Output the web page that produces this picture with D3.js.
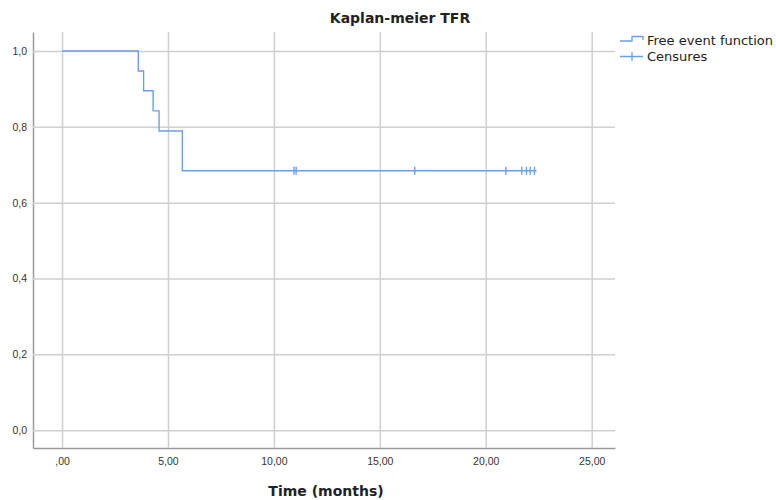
<!DOCTYPE html>
<html>
<head>
<meta charset="utf-8">
<script src="https://cdn.jsdelivr.net/npm/d3@7"></script>
<style>
  body { margin: 0; background: #fff; }
  svg { display: block; font-family: "DejaVu Sans", sans-serif; }
</style>
</head>
<body>
<svg id="chart"></svg>
<script>
// step curve: time of each event and survival after it
const stepTimes = [0, 3.6, 3.85, 4.3, 4.58, 5.68];
const stepSurv = [1.0, 0.947, 0.895, 0.842, 0.789, 0.684];
const lastTime = 22.4;
// censored observations
const censorTimes = [10.95, 11.05, 16.65, 20.95, 21.7, 21.92, 22.1, 22.3];
const xTicks = [0, 5, 10, 15, 20, 25];
const yTicks = [0, 0.2, 0.4, 0.6, 0.8, 1.0];

const width = 776, height = 500;
const plotL = 33, plotR = 615, plotT = 32, plotB = 448;
const lineColor = "#6b9fea";
const gridColor = "#cfcfcf";

const x = d3.scaleLinear().domain([-1.37, 26.1]).range([plotL, plotR]);
const y = d3.scaleLinear().domain([-0.047, 1.05]).range([plotB, plotT]);

const svg = d3.select("#chart")
    .attr("width", width)
    .attr("height", height);

const xFmt = d => d === 0 ? ",00" : d3.format(".2f")(d).replace(".", ",");
const yFmt = d => d3.format(".1f")(d).replace(".", ",");

// y axis with horizontal grid
const gy = svg.append("g")
    .attr("transform", `translate(${plotL},0)`)
    .call(d3.axisLeft(y).tickValues(yTicks).tickFormat(yFmt)
      .tickSizeInner(-(plotR - plotL)).tickSizeOuter(0).tickPadding(6));
gy.select(".domain").attr("stroke", "#9a9a9a").attr("stroke-width", 1.5);
gy.selectAll(".tick line").attr("stroke", gridColor).attr("stroke-width", 1.5);
gy.selectAll(".tick text").attr("fill", "#333").attr("font-size", 10.5);

// x axis with vertical grid
const gx = svg.append("g")
    .attr("transform", `translate(0,${plotB})`)
    .call(d3.axisBottom(x).tickValues(xTicks).tickFormat(xFmt)
      .tickSizeInner(-(plotB - plotT)).tickSizeOuter(0).tickPadding(10));
gx.select(".domain").attr("stroke", "#9a9a9a").attr("stroke-width", 1.5);
gx.selectAll(".tick line").attr("stroke", gridColor).attr("stroke-width", 1.5);
gx.selectAll(".tick text").attr("fill", "#333").attr("font-size", 10.5);

// survival curve
const pts = stepTimes.map((t, i) => [t, stepSurv[i]]);
pts.push([lastTime, stepSurv[stepSurv.length - 1]]);
const line = d3.line()
    .x(d => x(d[0]))
    .y(d => y(d[1]))
    .curve(d3.curveStepAfter);
svg.append("path")
    .datum(pts)
    .attr("fill", "none")
    .attr("stroke", lineColor)
    .attr("stroke-width", 1.4)
    .attr("d", line);

// censor ticks
const survAt = t => stepSurv[d3.bisectRight(stepTimes, t) - 1];
svg.append("g")
  .selectAll("line")
  .data(censorTimes)
  .join("line")
    .attr("x1", d => x(d)).attr("x2", d => x(d))
    .attr("y1", d => y(survAt(d)) - 4)
    .attr("y2", d => y(survAt(d)) + 4)
    .attr("stroke", lineColor)
    .attr("stroke-width", 1.4);

// title
svg.append("text")
    .attr("x", 400).attr("y", 23)
    .attr("text-anchor", "middle")
    .attr("font-weight", "bold")
    .attr("font-size", 14)
    .attr("fill", "#222")
    .text("Kaplan-meier TFR");

// x axis title
svg.append("text")
    .attr("x", 326).attr("y", 496)
    .attr("text-anchor", "middle")
    .attr("font-weight", "bold")
    .attr("font-size", 14)
    .attr("fill", "#222")
    .text("Time (months)");

// legend
const lg = svg.append("g").attr("transform", "translate(620,0)");
lg.append("path")
    .attr("d", "M0,41H12V36.5H23V40")
    .attr("fill", "none").attr("stroke", lineColor).attr("stroke-width", 1.3);
lg.append("path")
    .attr("d", "M0,56.5H23M12,52V61")
    .attr("fill", "none").attr("stroke", lineColor).attr("stroke-width", 1.3);
lg.selectAll("text")
  .data(["Free event function", "Censures"])
  .join("text")
    .attr("x", 27)
    .attr("y", (d, i) => 45 + i * 16)
    .attr("font-size", 13)
    .attr("fill", "#222")
    .text(d => d);
</script>
</body>
</html>
